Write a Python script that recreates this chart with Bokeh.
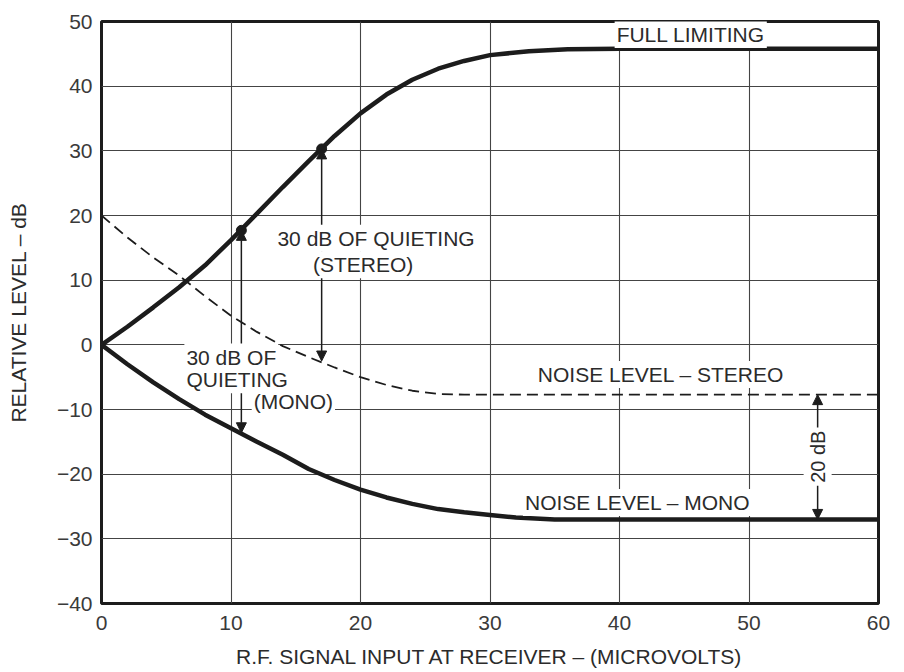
import math
from bokeh.plotting import figure
from bokeh.models import Label, Arrow, NormalHead, FixedTicker, CustomJSTickFormatter
from bokeh.embed import file_html
from bokeh.resources import INLINE

# ---- data ----
x_ticks = [0, 10, 20, 30, 40, 50, 60]
y_ticks = [-40, -30, -20, -10, 0, 10, 20, 30, 40, 50]

full_x = [0, 2, 4, 6, 8, 10, 12, 14, 16, 18, 20, 22, 24, 26, 28, 30, 33, 36, 40, 50, 60]
full_y = [0, 2.8, 5.8, 8.9, 12.3, 16.2, 20.3, 24.4, 28.4, 32.3, 35.8, 38.7, 41.0, 42.7, 43.9, 44.8, 45.4, 45.7, 45.8, 45.8, 45.8]

mono_x = [0, 2, 4, 6, 8, 10, 12, 14, 16, 18, 20, 22, 24, 26, 28, 30, 32, 35, 40, 60]
mono_y = [0, -3.0, -5.8, -8.4, -10.8, -12.9, -15.0, -17.0, -19.2, -20.9, -22.4, -23.6, -24.6, -25.4, -25.9, -26.3, -26.7, -27.0, -27.0, -27.0]

stereo_x = [0, 2, 4, 6, 8, 10, 12, 14, 16, 18, 20, 22, 24, 26, 28, 60]
stereo_y = [20, 16.6, 13.5, 10.7, 7.5, 4.5, 2.0, -0.2, -1.9, -3.5, -5.0, -6.2, -7.1, -7.6, -7.7, -7.7]

quiet_x = [10.8, 17.0]          # points of 30 dB quieting (mono, stereo)
quiet_y = [17.7, 30.3]
quiet_low = [-13.6, -2.5]       # noise level at those points
quiet_mid = [-4.0, 14.0]

gap_x = 55.3                    # 20 dB difference marker
gap_top = -7.7
gap_bottom = -27.0
gap_mid = -17.3

label_text = ["FULL LIMITING", "NOISE LEVEL \u2013 STEREO", "NOISE LEVEL \u2013 MONO",
              "30 dB OF QUIETING", "(STEREO)", "30 dB OF", "QUIETING", "(MONO)"]
label_x = [45.5, 43.2, 41.4, 21.2, 20.2, 6.4, 6.4, 11.6]
label_y = [48.0, -4.6, -24.4, 16.5, 12.4, -1.9, -5.4, -8.7]
label_align = ["center", "center", "center", "center", "center", "left", "left", "left"]

INK = "#1c1c1c"
TXT = "#2b2b2b"
FONT = "Liberation Sans"
FS = "21px"

p = figure(width=900, height=670, x_range=(0, 60), y_range=(-40, 50),
           output_backend="svg", toolbar_location=None,
           min_border_left=101, min_border_right=22, min_border_top=21, min_border_bottom=66,
           background_fill_color="white", border_fill_color="white")

p.outline_line_color = INK
p.outline_line_width = 3

for ax in (p.xaxis[0], p.yaxis[0]):
    ax.axis_line_color = None
    ax.major_tick_line_color = None
    ax.minor_tick_line_color = None
    ax.major_label_text_font = FONT
    ax.major_label_text_font_size = FS
    ax.major_label_text_color = "#3a3a3a"
    ax.axis_label_text_font = FONT
    ax.axis_label_text_font_size = FS
    ax.axis_label_text_font_style = "normal"
    ax.axis_label_text_color = TXT

p.xaxis.ticker = FixedTicker(ticks=x_ticks)
p.yaxis.ticker = FixedTicker(ticks=y_ticks)
p.yaxis.formatter = CustomJSTickFormatter(code="return tick < 0 ? '\u2212' + Math.abs(tick) : String(tick);")
p.xaxis.axis_label = "R.F. SIGNAL INPUT AT RECEIVER \u2013 (MICROVOLTS)"
p.yaxis.axis_label = "RELATIVE LEVEL \u2013 dB"
p.xaxis.major_label_standoff = 6
p.xaxis.axis_label_standoff = 12
p.yaxis.major_label_standoff = 3
p.yaxis.axis_label_standoff = 24

p.xgrid.ticker = FixedTicker(ticks=x_ticks)
p.ygrid.ticker = FixedTicker(ticks=y_ticks)
for g in (p.xgrid[0], p.ygrid[0]):
    g.grid_line_color = "#444444"
    g.grid_line_width = 1.1

p.line(stereo_x, stereo_y, line_color=INK, line_width=1.8, line_dash="11 6")
p.line(full_x, full_y, line_color=INK, line_width=4.5)
p.line(mono_x, mono_y, line_color=INK, line_width=4.5)
p.scatter(quiet_x, quiet_y, size=10, color=INK)

def head():
    return NormalHead(size=10, fill_color=INK, line_color=INK, line_width=1)

for qx, qy, ql, qm in zip(quiet_x, quiet_y, quiet_low, quiet_mid):
    p.add_layout(Arrow(end=head(), x_start=qx, y_start=qm, x_end=qx, y_end=qy,
                       line_color=INK, line_width=1.5))
    p.add_layout(Arrow(end=head(), x_start=qx, y_start=qm, x_end=qx, y_end=ql,
                       line_color=INK, line_width=1.5))

p.add_layout(Arrow(end=head(), x_start=gap_x, y_start=gap_mid, x_end=gap_x, y_end=gap_top,
                   line_color=INK, line_width=1.5))
p.add_layout(Arrow(end=head(), x_start=gap_x, y_start=gap_mid, x_end=gap_x, y_end=gap_bottom,
                   line_color=INK, line_width=1.5))

for t, lx, ly, al in zip(label_text, label_x, label_y, label_align):
    p.add_layout(Label(x=lx, y=ly, text=t, text_align=al, text_baseline="middle",
                       text_font=FONT, text_font_size=FS, text_color=TXT,
                       background_fill_color="white", padding=2))

p.add_layout(Label(x=gap_x, y=gap_mid, text="20 dB", angle=math.pi / 2,
                   text_align="center", text_baseline="middle",
                   text_font=FONT, text_font_size="20px", text_color=TXT,
                   background_fill_color="white", padding=3))

open("out.html", "w").write(file_html(p, INLINE))
